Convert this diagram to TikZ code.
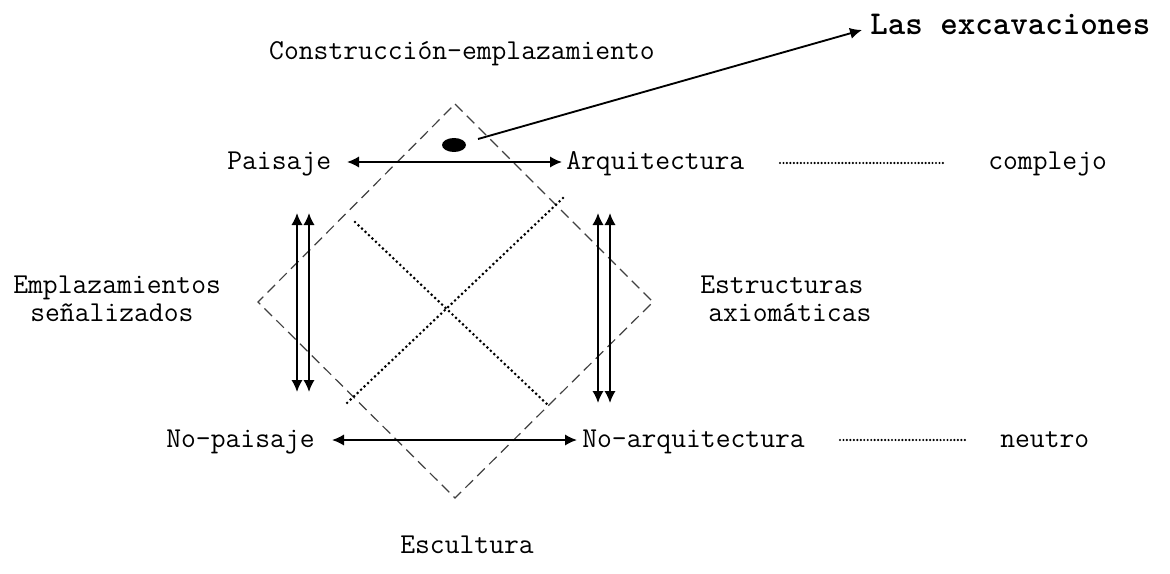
\documentclass[tikz,border=0pt]{standalone}
\usepackage{fontspec}
\usetikzlibrary{arrows.meta,shapes.geometric}
\begin{document}
\begin{tikzpicture}[x=0.75pt,y=-0.75pt,
  lbl/.style={inner sep=0pt,font=\ttfamily\fontsize{21.6}{24}\selectfont},
  big/.style={inner sep=0pt,font=\ttfamily\fontsize{25}{28}\selectfont\bfseries},
  biarrow/.style={line width=1.4pt,{Latex[length=9pt,width=8.5pt]}-{Latex[length=9pt,width=8.5pt]}},
  onearrow/.style={line width=1.4pt,-{Latex[length=9pt,width=8.5pt]}},
  dashbox/.style={draw=black!75,line width=0.9pt,dash pattern=on 8pt off 4.5pt},
  dotline/.style={line width=2.2pt,line cap=round,dash pattern=on 0pt off 3.6pt},
  dotsep/.style={line width=1.8pt,line cap=round,dash pattern=on 0pt off 2.6pt}]
\useasboundingbox (0,0) rectangle (1170,574);
% diamond
\draw[dashbox] (455,104) -- (653,302) -- (455,498) -- (258,302) -- cycle;
% dotted cross
\draw[dotline] (355,222) -- (550,407);
\draw[dotline] (563,198) -- (347,403);
% labels
\node[lbl,anchor=base] (constr) at (462,60) {Construcción-emplazamiento};
\node[big,anchor=base west] (exc) at (870,35) {Las excavaciones};
\node[lbl,anchor=base west] (pais) at (227,170) {Paisaje};
\node[lbl,anchor=base west] (arq) at (566,170) {Arquitectura};
\node[lbl,anchor=base west] (comp) at (988,170) {complejo};
\node[lbl,anchor=base west] (empl) at (13,293) {Emplazamientos};
\node[lbl,anchor=base west] (senal) at (30,321) {señalizados};
\node[lbl,anchor=base west] (estr) at (700,293) {Estructuras};
\node[lbl,anchor=base west] (axio) at (708,321) {axiomáticas};
\node[lbl,anchor=base west] (nopais) at (166,447) {No-paisaje};
\node[lbl,anchor=base west] (noarq) at (582,447) {No-arquitectura};
\node[lbl,anchor=base west] (neut) at (1000,447) {neutro};
\node[lbl,anchor=base] (escul) at (467,553) {Escultura};
% dot
\node[fill=black,ellipse,minimum width=18pt,minimum height=10.5pt,inner sep=0pt] (dot) at (454,145) {};
\coordinate (ptr) at (478,139);
\coordinate (tip) at (862,30);
\draw[onearrow] (ptr) -- (tip);
% horizontal arrows
\coordinate (pa) at (347,162);
\coordinate (pb) at (562,162);
\draw[biarrow] (pa) -- (pb);
\coordinate (na) at (332,440);
\coordinate (nb) at (577,440);
\draw[biarrow] (na) -- (nb);
% dotted links
\draw[dotsep] (780,163) -- (945,163);
\draw[dotsep] (840,440) -- (968,440);
% vertical arrows left
\coordinate (l1t) at (297,213); \coordinate (l1b) at (297,392);
\coordinate (l2t) at (309,213); \coordinate (l2b) at (309,392);
\draw[biarrow] (l1t) -- (l1b);
\draw[biarrow] (l2t) -- (l2b);
% vertical arrows right
\coordinate (r1t) at (598,213); \coordinate (r1b) at (598,403);
\coordinate (r2t) at (610,213); \coordinate (r2b) at (610,403);
\draw[biarrow] (r1t) -- (r1b);
\draw[biarrow] (r2t) -- (r2b);
\end{tikzpicture}
\end{document}
